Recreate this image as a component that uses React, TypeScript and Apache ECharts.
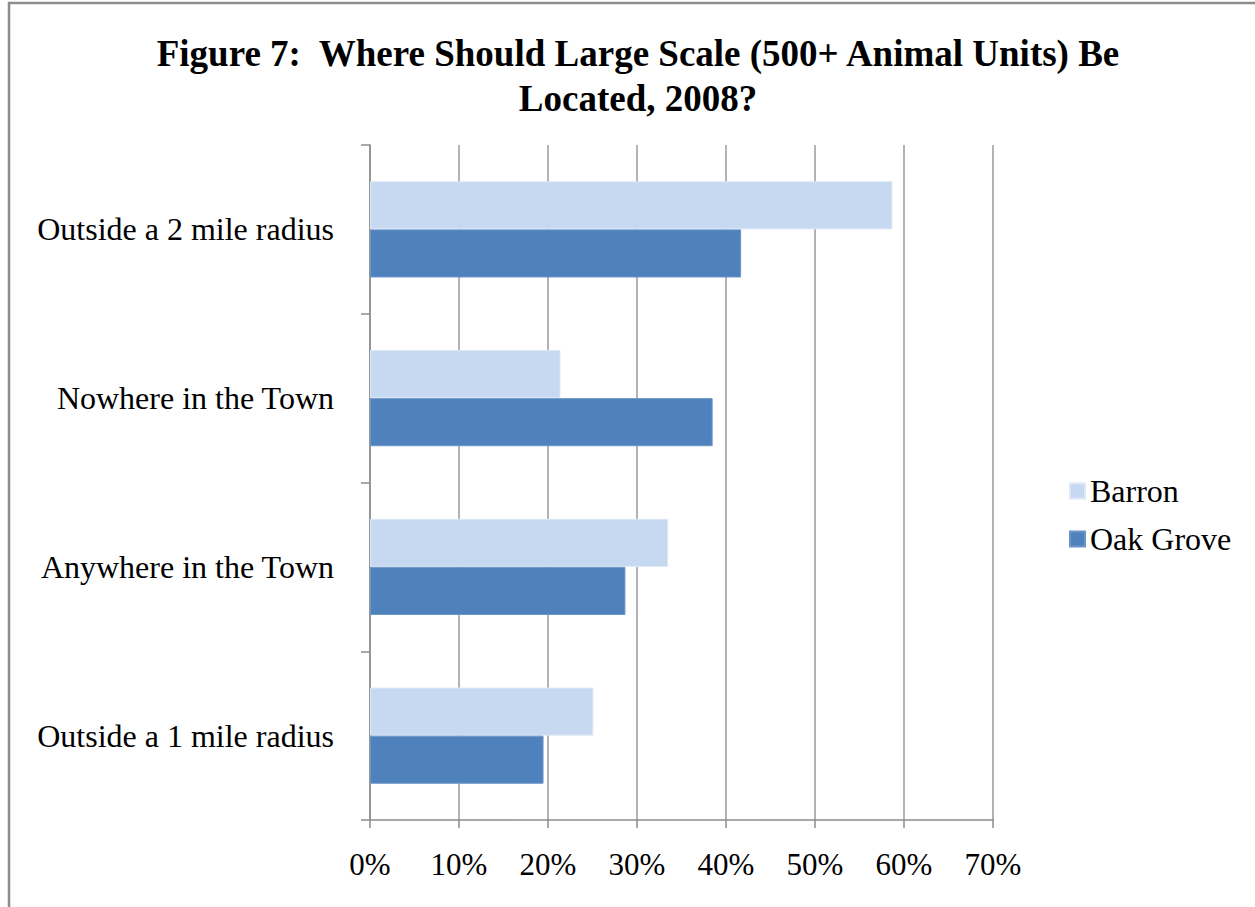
import React, { useEffect, useRef } from "react";
import * as echarts from "echarts";

const categories = [
  "Outside a 2 mile radius",
  "Nowhere in the Town",
  "Anywhere in the Town",
  "Outside a 1 mile radius",
];
const barron = [58.7, 21.4, 33.5, 25.1];
const oakGrove = [41.7, 38.5, 28.7, 19.5];
const seriesNames = ["Barron", "Oak Grove"];
const titleText = "Figure 7:  Where Should Large Scale (500+ Animal Units) Be\nLocated, 2008?";

const FONT = '"Liberation Serif", "Times New Roman", serif';

export default function App() {
  const ref = useRef<HTMLDivElement>(null);
  useEffect(() => {
    document.body.style.margin = "0";
    const chart = echarts.init(ref.current!, null, { renderer: "svg" });
    chart.setOption({
      animation: false,
      backgroundColor: "#ffffff",
      title: {
        text: titleText,
        left: 633,
        textAlign: "center",
        top: 26,
        textStyle: {
          fontFamily: FONT,
          fontWeight: "bold",
          fontSize: 37,
          lineHeight: 45,
          color: "#000",
        },
      },
      graphic: [
        {
          type: "rect",
          shape: { x: 9, y: 3, width: 1270, height: 940 },
          style: { fill: "none", stroke: "#8c8c8c", lineWidth: 2.5 },
          silent: true,
        },
      ],
      legend: {
        orient: "vertical",
        left: 1064,
        top: 470,
        itemWidth: 15,
        itemHeight: 15,
        itemGap: 16,
        icon: "rect",
        textStyle: { fontFamily: FONT, fontSize: 32, color: "#000", padding: [0, 0, 0, 0] },
        data: seriesNames,
      },
      grid: { left: 370, right: 262, top: 145, bottom: 87, containLabel: false },
      xAxis: {
        type: "value",
        min: 0,
        max: 70,
        interval: 10,
        axisLine: { show: true, lineStyle: { color: "#8c8c8c", width: 1.5 } },
        axisTick: { show: true, length: 8, lineStyle: { color: "#8c8c8c", width: 1.5 } },
        splitLine: { show: true, lineStyle: { color: "#9a9a9a", width: 1.5 } },
        axisLabel: {
          formatter: "{value}%",
          fontFamily: FONT,
          fontSize: 31,
          color: "#000",
          margin: 29,
        },
      },
      yAxis: {
        type: "category",
        inverse: true,
        data: categories,
        axisLine: { show: true, lineStyle: { color: "#8c8c8c", width: 1.5 } },
        axisTick: { show: true, length: 9, lineStyle: { color: "#8c8c8c", width: 1.5 } },
        axisLabel: {
          fontFamily: FONT,
          fontSize: 32,
          color: "#000",
          margin: 36,
        },
      },
      series: [
        {
          name: seriesNames[0],
          type: "bar",
          data: barron,
          barGap: "0%",
          barCategoryGap: "43%",
          itemStyle: { color: "#C6D9F1", borderColor: "#dde8f6", borderWidth: 1 },
        },
        {
          name: seriesNames[1],
          type: "bar",
          data: oakGrove,
          barGap: "0%",
          barCategoryGap: "43%",
          itemStyle: { color: "#4F81BD", borderColor: "#6b95c9", borderWidth: 1 },
        },
      ],
    });
    return () => chart.dispose();
  }, []);
  return <div ref={ref} style={{ width: 1255, height: 907 }} />;
}
